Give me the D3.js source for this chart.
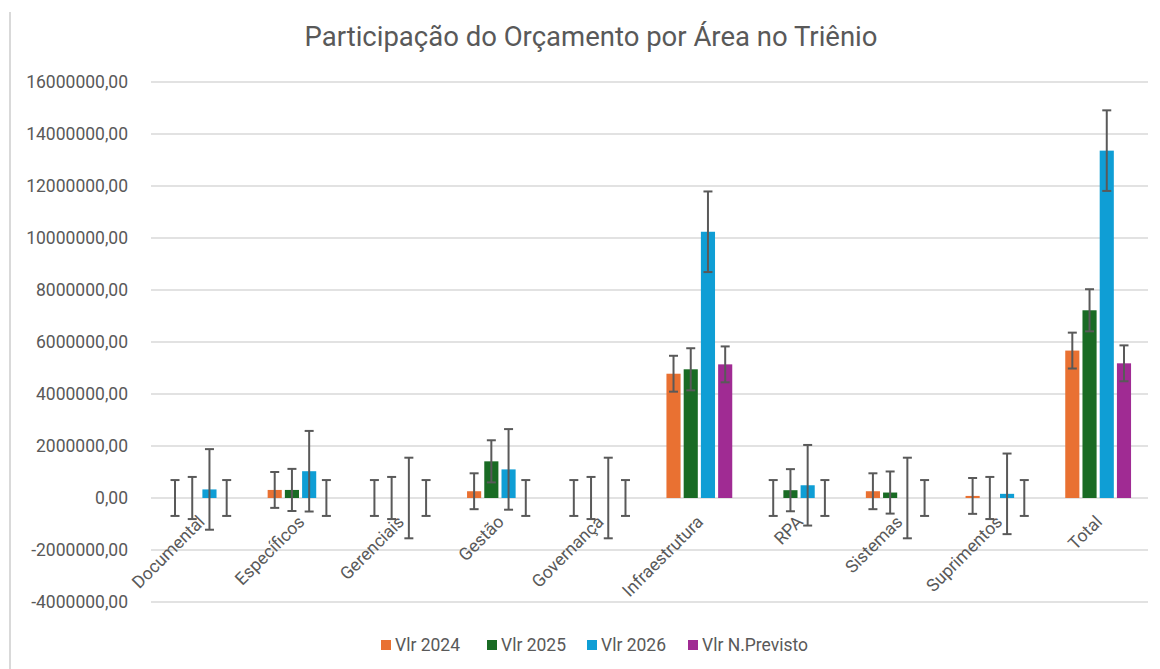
<!DOCTYPE html>
<html>
<head>
<meta charset="utf-8">
<script src="https://cdn.jsdelivr.net/npm/d3@7"></script>
<style>
  body { margin: 0; background: #fff; }
  text { font-family: Roboto, "Noto Sans", sans-serif; fill: #595959; }
</style>
</head>
<body>
<div id="chart"></div>
<script>
// data
var categories = ["Documental", "Específicos", "Gerenciais", "Gestão", "Governança", "Infraestrutura", "RPA", "Sistemas", "Suprimentos", "Total"];
var series = ["Vlr 2024", "Vlr 2025", "Vlr 2026", "Vlr N.Previsto"];
var vlr2024 = [0, 310000, 0, 260000, 0, 4780000, 0, 260000, 80000, 5670000];
var vlr2025 = [0, 310000, 0, 1410000, 0, 4950000, 300000, 210000, 0, 7220000];
var vlr2026 = [330000, 1030000, 0, 1100000, 0, 10240000, 490000, 0, 160000, 13360000];
var vlrNPrevisto = [0, 0, 0, 0, 0, 5140000, 0, 0, 0, 5180000];
var errAmount = [690000, 810000, 1550000, 690000];   // error bar size per series
var yTicks = [-4000000, -2000000, 0, 2000000, 4000000, 6000000, 8000000, 10000000, 12000000, 14000000, 16000000];
var colors = ["#e97132", "#196b24", "#0f9ed5", "#a02b93"];

var values = [vlr2024, vlr2025, vlr2026, vlrNPrevisto];
var data = categories.map(function(c, i) {
  return { cat: c, vals: series.map(function(s, j) { return { key: s, idx: j, v: values[j][i] }; }) };
});

var width = 1160, height = 669;
var svg = d3.select("#chart").append("svg")
  .attr("width", width).attr("height", height);

svg.append("rect").attr("width", width).attr("height", height).attr("fill", "#fff");

// chart frame left edge
svg.append("line").attr("x1", 10).attr("x2", 10).attr("y1", 12).attr("y2", height)
  .attr("stroke", "#d9d9d9").attr("stroke-width", 2);

var plotLeft = 151, plotRight = 1148;

var y = d3.scaleLinear().domain([-4000000, 16000000]).range([602, 82]);
var x0 = d3.scaleBand().domain(categories).range([plotLeft, plotRight]);
var x1 = d3.scaleBand().domain(series).range([x0.bandwidth() / 2 - 36, x0.bandwidth() / 2 + 36]).padding(0.18);
var color = d3.scaleOrdinal().domain(series).range(colors);

var loc = d3.formatLocale({ decimal: ",", thousands: "", grouping: [3], currency: ["", ""], minus: "-" });
var fmt = loc.format(".2f");

// title
svg.append("text").attr("x", 591).attr("y", 46).attr("text-anchor", "middle")
  .style("font-size", "27.5px").text("Participação do Orçamento por Área no Triênio");

// gridlines
svg.append("g").selectAll("line").data(yTicks).enter().append("line")
  .attr("x1", plotLeft).attr("x2", plotRight)
  .attr("y1", function(d) { return y(d); }).attr("y2", function(d) { return y(d); })
  .attr("stroke", "#d9d9d9").attr("stroke-width", 1.5);

// y axis labels
var yAxis = svg.append("g").attr("transform", "translate(" + (plotLeft - 23) + ",0)")
  .call(d3.axisLeft(y).tickValues(yTicks).tickFormat(fmt).tickSize(0).tickPadding(0));
yAxis.select(".domain").remove();
yAxis.selectAll("text").attr("fill", "#595959").style("font-size", "17.5px")
  .style("font-family", "Roboto, sans-serif");

// bars
var groups = svg.append("g").selectAll("g").data(data).enter().append("g")
  .attr("transform", function(d) { return "translate(" + x0(d.cat) + ",0)"; });

groups.selectAll("rect").data(function(d) { return d.vals; }).enter().append("rect")
  .attr("x", function(d) { return x1(d.key); })
  .attr("y", function(d) { return y(Math.max(0, d.v)); })
  .attr("width", x1.bandwidth())
  .attr("height", function(d) { return Math.abs(y(d.v) - y(0)); })
  .attr("fill", function(d) { return color(d.key); });

// error bars
var eb = groups.selectAll("g.err").data(function(d) { return d.vals; }).enter().append("g")
  .attr("class", "err")
  .attr("transform", function(d) { return "translate(" + (x1(d.key) + x1.bandwidth() / 2) + ",0)"; })
  .attr("stroke", "#595959").attr("stroke-width", 2);
eb.append("line").attr("x1", 0).attr("x2", 0)
  .attr("y1", function(d) { return y(d.v + errAmount[d.idx]); })
  .attr("y2", function(d) { return y(d.v - errAmount[d.idx]); });
eb.append("line").attr("x1", -4.5).attr("x2", 4.5)
  .attr("y1", function(d) { return y(d.v + errAmount[d.idx]); })
  .attr("y2", function(d) { return y(d.v + errAmount[d.idx]); });
eb.append("line").attr("x1", -4.5).attr("x2", 4.5)
  .attr("y1", function(d) { return y(d.v - errAmount[d.idx]); })
  .attr("y2", function(d) { return y(d.v - errAmount[d.idx]); });

// category labels
svg.append("g").selectAll("text").data(categories).enter().append("text")
  .attr("transform", function(d) { return "translate(" + (x0(d) + x0.bandwidth() / 2 + 5) + "," + (y(0) + 25) + ")rotate(-45)"; })
  .attr("text-anchor", "end")
  .style("font-size", "17.5px")
  .text(function(d) { return d; });

// legend
var legendX = [381, 487, 587, 688];
var legend = svg.append("g").selectAll("g").data(series).enter().append("g")
  .attr("transform", function(d, i) { return "translate(" + legendX[i] + ",640)"; });
legend.append("rect").attr("width", 10).attr("height", 10).attr("fill", function(d) { return color(d); });
legend.append("text").attr("x", 14).attr("y", 10.5).style("font-size", "17.5px").text(function(d) { return d; });
</script>
</body>
</html>
